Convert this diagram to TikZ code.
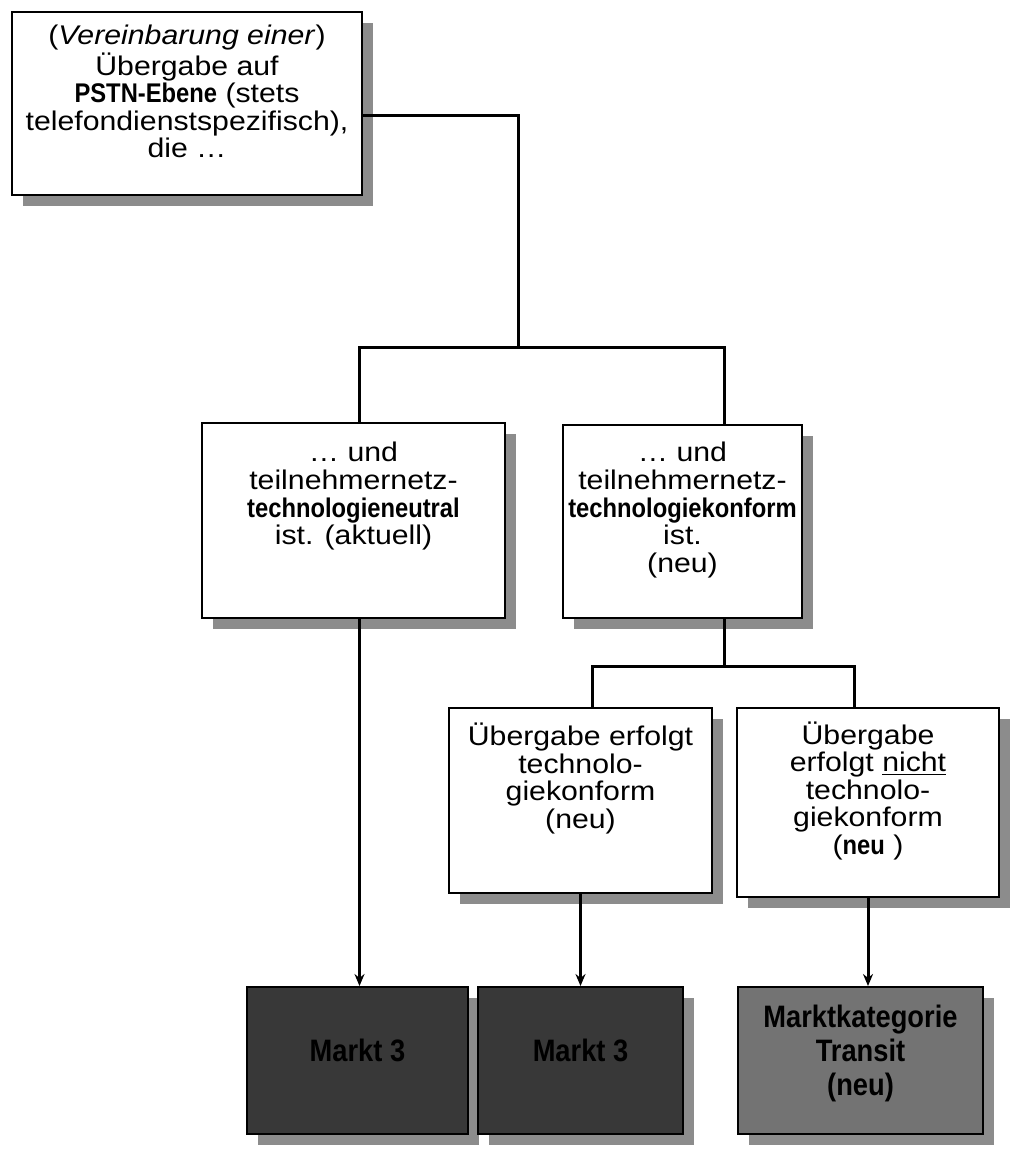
\documentclass[tikz,border=0pt]{standalone}
\usepackage{fontspec}
\setmainfont[FakeStretch=1.12]{Liberation Sans}
\newfontfamily\narrowbf[FakeStretch=0.88]{Liberation Sans}
\newcommand{\fett}[1]{{\narrowbf\bfseries #1}}
\usepackage{tikz}
\usetikzlibrary{arrows.meta, positioning, shadows}

\begin{document}
\begin{tikzpicture}[
    x=0.5pt, y=-0.5pt,
    card/.style={draw, line width=1pt, fill=white, inner sep=0pt,
        drop shadow={shadow xshift=5.5pt, shadow yshift=-5.5pt, fill=black!45, opacity=1}},
    txt/.style={align=center, inner sep=0pt, font=\fontsize{13.5}{13.8}\selectfont},
    markt/.style={card, align=center, font=\fontsize{15.5}{17}\selectfont\narrowbf\bfseries},
    link/.style={line width=1.5pt},
    arrow/.style={line width=1.5pt, -{Stealth[length=6pt, width=5pt]}}
]
\useasboundingbox (0,0) rectangle (1019,1154);

% boxes
\node[card, minimum width=175pt, minimum height=91.5pt] (top) at (187,103.5) {};
\node[card, minimum width=151.5pt, minimum height=97.5pt] (midl) at (353.5,520.5) {};
\node[card, minimum width=119.5pt, minimum height=96.5pt] (midr) at (682.5,521.5) {};
\node[card, minimum width=131.5pt, minimum height=92.5pt] (uebl) at (580.5,800.5) {};
\node[card, minimum width=131pt, minimum height=94.5pt] (uebr) at (868,802.5) {};
\node[markt, fill=black!78, minimum width=110.5pt, minimum height=73.5pt] (markta) at (357.5,1060.5) {Markt 3\\[-7pt]};
\node[markt, fill=black!78, minimum width=102.5pt, minimum height=73.5pt] (marktb) at (580.5,1060.5) {Markt 3\\[-7pt]};
\node[markt, fill=black!55, minimum width=122.5pt, minimum height=73.5pt] (transit) at (860.5,1060.5) {Marktkategorie\\Transit\\(neu)\\[-7pt]};

% texts
\node[txt, below=7pt of top.north] (toptext) {(\textit{Vereinbarung einer})\\Übergabe auf\\\fett{PSTN-Ebene} (stets\\telefondienstspezifisch),\\die \ldots};
\node[txt, below=10pt of midl.north] (midltext) {\ldots\ und\\teilnehmernetz-\\\fett{technologieneutral}\\ist. (aktuell)};
\node[txt, below=9pt of midr.north] (midrtext) {\ldots\ und\\teilnehmernetz-\\\fett{technologiekonform}\\ist.\\(neu)};
\node[txt, below=7.7pt of uebl.north] (uebltext) {Übergabe erfolgt\\technolo-\\giekonform\\(neu)};
\node[txt, below=7pt of uebr.north] (uebrtext) {Übergabe\\erfolgt \underline{nicht}\\technolo-\\giekonform\\(\fett{neu} )};

% connectors
\coordinate (j1) at (518,348);
\draw[link] ([yshift=-6pt]top.east) -| (j1);
\draw[link] ([xshift=3pt]midl.north) |- (j1) -| ([xshift=21pt]midr.north);
\draw[link] ([xshift=21pt]midr.south) -- ++(0,47) coordinate (j2);
\draw[link] ([xshift=6pt]uebl.north) |- (j2) -| ([xshift=-7pt]uebr.north);

\draw[arrow] ([xshift=3pt]midl.south) -- ([xshift=3pt]midl.south |- markta.north);
\draw[arrow] (uebl.south) -- (uebl.south |- marktb.north);
\draw[arrow] (uebr.south) -- (uebr.south |- transit.north);
\end{tikzpicture}
\end{document}
